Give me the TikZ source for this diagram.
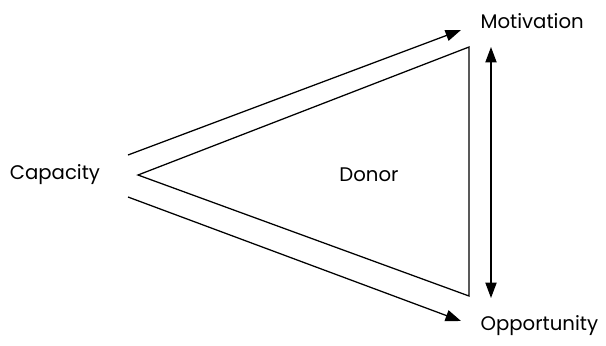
\documentclass[tikz,border=0pt]{standalone}
\usepackage{fontspec}
\setmainfont{Poppins}
\usetikzlibrary{arrows.meta}

\begin{document}
\begin{tikzpicture}[x=0.025cm, y=-0.025cm, line width=0.9pt,
    label/.style={font=\fontsize{14}{16}\selectfont, inner sep=0pt},
    arrowline/.style={-{Triangle[length=11pt, width=8pt]}}]
    \definecolor{lineColour}{HTML}{000000}

    \useasboundingbox (0,0) rectangle (606,345);

    % Corners of the triangle
    \coordinate (apex) at (138,175);
    \coordinate (topCorner) at (469,47);
    \coordinate (bottomCorner) at (469,296);

    % Draw the triangle
    \draw[draw=lineColour, line join=miter] (apex) -- (topCorner) -- (bottomCorner) -- cycle;

    % Labels
    \node[label] (capacity) at (55,175) {Capacity};
    \node[label] (donor) at (369,175) {Donor};
    \node[label, anchor=west] (motivation) at (480,21) {Motivation};
    \node[label, anchor=west] (opportunity) at (480,326) {Opportunity};

    % End points of the arrows
    \coordinate (upperStart) at (128,155);
    \coordinate (upperEnd) at (461,30);
    \coordinate (lowerStart) at (128,197);
    \coordinate (lowerEnd) at (461,321);
    \coordinate (sideTop) at (491,47);
    \coordinate (sideBottom) at (491,298);

    % Draw the arrows
    \draw[arrowline] (upperStart) -- (upperEnd);
    \draw[arrowline] (lowerStart) -- (lowerEnd);
    \draw[{Triangle[length=11pt, width=8pt]}-{Triangle[length=11pt, width=8pt]}] (sideTop) -- (sideBottom);

\end{tikzpicture}
\end{document}
